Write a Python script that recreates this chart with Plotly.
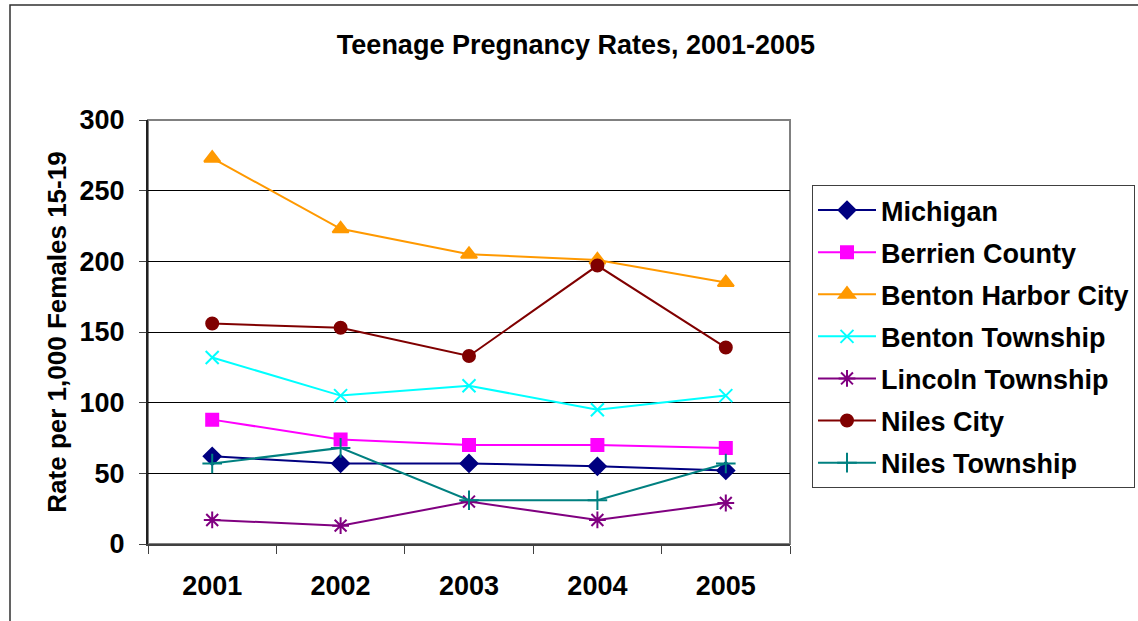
import plotly.graph_objects as go

years = ["2001", "2002", "2003", "2004", "2005"]
michigan = [62, 57, 57, 55, 52]
berrien = [88, 74, 70, 70, 68]
benton_harbor = [273, 223, 205, 201, 185]
benton_twp = [132, 105, 112, 95, 105]
lincoln_twp = [17, 13, 30, 17, 29]
niles_city = [156, 153, 133, 197, 139]
niles_twp = [57, 68, 31, 31, 57]

series = [
    ("Michigan", michigan, "#000080", "diamond", 13),
    ("Berrien County", berrien, "#FF00FF", "square", 12),
    ("Benton Harbor City", benton_harbor, "#FF9900", "triangle-up", 14),
    ("Benton Township", benton_twp, "#00FFFF", "x-thin", 13),
    ("Lincoln Township", lincoln_twp, "#800080", "asterisk", 14),
    ("Niles City", niles_city, "#800000", "circle", 12),
    ("Niles Township", niles_twp, "#008080", "cross-thin", 14),
]

fig = go.Figure()
for i, (name, vals, color, sym, size) in enumerate(series):
    fig.add_trace(go.Scatter(
        x=years, y=vals, name=f"<b>{name}</b>", mode="lines+markers",
        line=dict(color=color, width=2),
        marker=dict(symbol=sym, size=size, color=color,
                    line=dict(color=color, width=2)),
        legendgroup=f"g{i}",
    ))

W, H = 1138, 621
L, R, T, B = 148, 348, 120, 77
pw, ph = W - L - R, H - T - B

def px_x(px):
    return (px - L) / pw

def px_y(py):
    return (H - B - py) / ph

font_family = "Liberation Sans, Arial, sans-serif"

fig.update_layout(
    width=W, height=H,
    margin=dict(l=L, r=R, t=T, b=B, autoexpand=False),
    paper_bgcolor="white", plot_bgcolor="white",
    title=dict(text="<b>Teenage Pregnancy Rates, 2001-2005</b>",
               x=px_x(576), xanchor="center", xref="paper",
               y=1 - 45 / H, yanchor="middle",
               font=dict(family=font_family, size=27, color="black")),
    showlegend=True,
    legend=dict(
        x=px_x(812), y=px_y(185), xanchor="left", yanchor="top",
        bordercolor="#404040", borderwidth=1, bgcolor="white",
        font=dict(family=font_family, size=27, color="black"),
        tracegroupgap=4, traceorder="grouped",
        itemwidth=58,
    ),
    xaxis=dict(
        type="category", tickson="boundaries", range=[-0.5, 4.5],
        ticks="outside", ticklen=8, tickcolor="#404040",
        showline=True, linecolor="#404040", linewidth=2,
        showgrid=False, tickfont=dict(family=font_family, size=27, color="black"),
        ticklabelstandoff=17,
    ),
    yaxis=dict(
        range=[0, 300], dtick=50, tickformat="d",
        ticks="outside", ticklen=7, tickcolor="#404040",
        showline=True, linecolor="#202020", linewidth=2,
        showgrid=True, gridcolor="black", gridwidth=1,
        zeroline=False,
        tickfont=dict(family=font_family, size=27, color="black"),
        ticklabelstandoff=9,
        title=dict(text="<b>Rate per 1,000 Females 15-19</b>",
                   font=dict(family=font_family, size=26, color="black"),
                   standoff=5),
    ),
    font=dict(family=font_family),
    shapes=[
        dict(type="rect", xref="paper", yref="paper",
             x0=0, x1=1, y0=0, y1=1,
             line=dict(color="#808080", width=2), layer="below"),
        dict(type="rect", xref="paper", yref="paper",
             x0=px_x(10), x1=px_x(1145), y0=px_y(5), y1=px_y(630),
             line=dict(color="#303030", width=1.5), layer="below"),
    ],
)
fig.update_xaxes(tickprefix="<b>", ticksuffix="</b>")
fig.update_yaxes(tickprefix="<b>", ticksuffix="</b>")

fig.write_html("out.html", config={"displayModeBar": False},
               post_script="document.body.style.margin='0';document.body.style.overflow='hidden';")
